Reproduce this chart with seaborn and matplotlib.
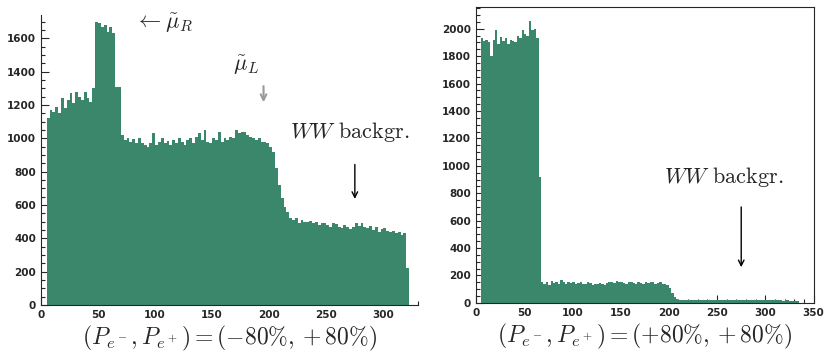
import numpy as np
import pandas as pd
import matplotlib
matplotlib.use('Agg')
import matplotlib.pyplot as plt
import seaborn as sns

sns.set_style('ticks')
plt.rcParams['mathtext.fontset'] = 'cm'
plt.rcParams['font.family'] = ['DejaVu Sans']

# 히스토그램 bin 폭 2.5 GeV, 왼쪽 가장자리 값
bin_w = 2.5
left_start = 5.0
# (P_e-, P_e+) = (-80%, +80%)
left_counts = [1120, 1170, 1160, 1190, 1150, 1240, 1180, 1230, 1270, 1210,
               1280, 1250, 1230, 1280, 1240, 1220, 1300,
               1700, 1690, 1670, 1680, 1640, 1670, 1630,
               1310, 1310,
               1020, 990, 1000, 980, 995, 970, 1000, 975, 960, 950,
               970, 1030, 960, 980, 1000, 970, 985, 960, 990, 970,
               1000, 980, 960, 990, 1000, 975, 1010, 1030, 990, 1050,
               980, 970, 1000, 990, 1040, 980, 1000, 990, 1010, 1000,
               1050, 1030, 1040, 1040, 1020, 1010, 1000, 990, 1000, 980,
               980, 970, 950, 920, 820, 720, 640, 590, 560, 520,
               510, 520, 495, 510, 500, 500, 505, 490, 500, 480,
               490, 495, 480, 470, 490, 485, 470, 460, 480, 470,
               455, 470, 490, 475, 490, 470, 460, 475, 450, 470,
               440, 455, 460, 445, 440, 445, 430, 440, 420, 430, 220]

right_start = 5.0
# (P_e-, P_e+) = (+80%, +80%)
right_counts = [1930, 1910, 1920, 1900, 1800, 1920, 1990, 1890, 1940, 1910,
                1930, 1890, 1920, 1910, 1900, 1950, 1930, 1990, 1960, 1950,
                2060, 1990, 2000, 1930,
                920,
                150, 140, 150, 130, 160, 145, 150, 140, 165, 150,
                140, 155, 145, 150, 140, 145, 150, 135, 140, 150,
                145, 130, 140, 135, 145, 140, 130, 145, 150, 155,
                145, 160, 155, 150, 145, 140, 155, 150, 145, 140,
                150, 145, 140, 150, 145, 155, 150, 140, 145, 150,
                140, 140, 130, 110, 70, 40, 25,
                22, 20, 18, 22, 20, 19, 24, 20, 18, 21,
                20, 22, 19, 18, 20, 21, 19, 20, 22, 18,
                20, 19, 21, 20, 18, 22, 24, 20, 19, 21,
                18, 20, 22, 20, 19, 18, 20, 21, 22, 20,
                20, 18, 19, 17, 18, 20, 16, 15, 14, 12]

panel_labels = [r'$(P_{e^-},P_{e^+})=(-80\%,+80\%)$',
                r'$(P_{e^-},P_{e^+})=(+80\%,+80\%)$']
green = '#3b876c'


def make_df(start, counts):
    counts = np.array(counts, dtype=float)
    centers = start + bin_w * np.arange(len(counts)) + bin_w / 2
    rng = (start, start + bin_w * len(counts))
    return pd.DataFrame({'x': centers, 'w': counts}), rng


fig = plt.figure(figsize=(8.26, 3.58), dpi=100)
ax1 = fig.add_axes([0.0496, 0.148, 0.456, 0.81])
ax2 = fig.add_axes([0.576, 0.154, 0.409, 0.827])

# 왼쪽 패널
df1, r1 = make_df(left_start, left_counts)
sns.histplot(data=df1, x='x', weights='w', binwidth=bin_w, binrange=r1,
             element='step', fill=True, color=green, alpha=1, linewidth=0,
             ax=ax1)
ax1.set_xlim(0, 330)
ax1.set_ylim(0, 1740)
ax1.set_xticks(range(0, 301, 50))
ax1.set_yticks(range(0, 1601, 200))
ax1.spines['top'].set_visible(False)
ax1.spines['right'].set_visible(False)

# 오른쪽 패널
df2, r2 = make_df(right_start, right_counts)
sns.histplot(data=df2, x='x', weights='w', binwidth=bin_w, binrange=r2,
             element='step', fill=True, color=green, alpha=1, linewidth=0,
             ax=ax2)
ax2.set_xlim(0, 350)
ax2.set_ylim(0, 2160)
ax2.set_xticks(range(0, 351, 50))
ax2.set_yticks(range(0, 2001, 200))

for ax, lab in zip([ax1, ax2], panel_labels):
    ax.set_xlabel('')
    ax.set_ylabel('')
    ax.minorticks_on()
    ax.tick_params(which='both', direction='in', labelsize=7.5, width=0.8)
    ax.tick_params(which='major', length=6)
    ax.tick_params(which='minor', length=3)
    for t in ax.get_xticklabels() + ax.get_yticklabels():
        t.set_fontweight('bold')
    ax.text(0.5, -0.065, lab, transform=ax.transAxes, ha='center', va='top',
            fontsize=17)

# 주석
ax1.text(82, 1690, r'$\leftarrow\tilde{\mu}_R$', fontsize=16, va='center')
ax1.text(168, 1440, r'$\tilde{\mu}_L$', fontsize=16, va='center')
ax1.annotate('', xy=(195, 1200), xytext=(195, 1330),
             arrowprops=dict(arrowstyle='->', color='#999999', lw=1.5))
ax1.text(218, 1040, r'$WW\ \mathrm{backgr.}$', fontsize=16, va='center')
ax1.annotate('', xy=(275, 620), xytext=(275, 860),
             arrowprops=dict(arrowstyle='->', color='black', lw=1))

ax2.text(195, 920, r'$WW\ \mathrm{backgr.}$', fontsize=16, va='center')
ax2.annotate('', xy=(275, 240), xytext=(275, 720),
             arrowprops=dict(arrowstyle='->', color='black', lw=1))

fig.savefig('out.png', dpi=100)
